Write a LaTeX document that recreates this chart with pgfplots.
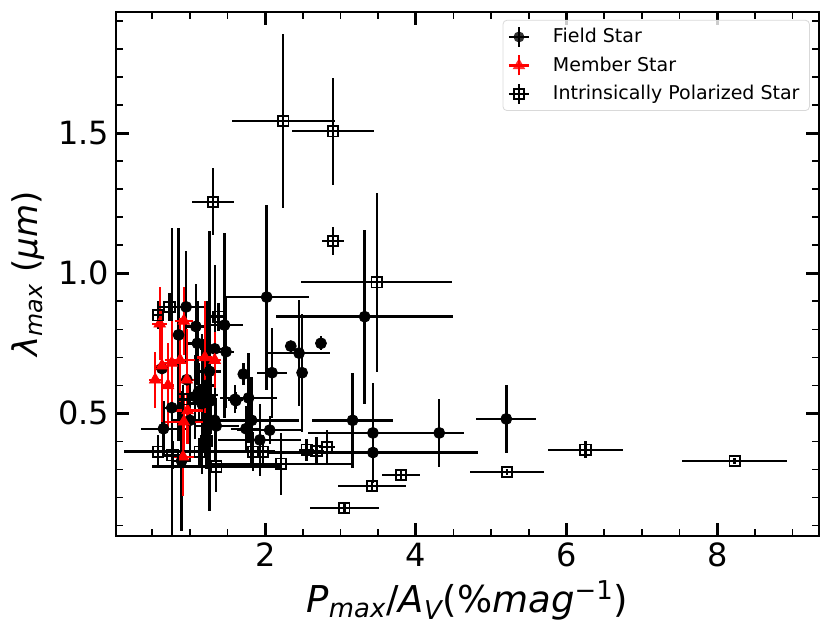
\documentclass[border=0pt]{standalone}
\usepackage{fontspec}
\setmainfont{DejaVu Sans}
\usepackage{amsmath}
\usepackage{pgfplots}
\pgfplotsset{compat=1.18}
\pgfdeclareplotmark{legfield}{%
  \pgfsetlinewidth{1.2pt}%
  \pgfpathmoveto{\pgfpoint{-5pt}{0pt}}\pgfpathlineto{\pgfpoint{5pt}{0pt}}%
  \pgfpathmoveto{\pgfpoint{0pt}{-5pt}}\pgfpathlineto{\pgfpoint{0pt}{5pt}}%
  \pgfusepathqstroke
  \pgfpathcircle{\pgfpointorigin}{2.75pt}\pgfusepathqfill}
\pgfdeclareplotmark{legmember}{%
  \pgfsetlinewidth{1.2pt}%
  \pgfpathmoveto{\pgfpoint{-5pt}{0pt}}\pgfpathlineto{\pgfpoint{5pt}{0pt}}%
  \pgfpathmoveto{\pgfpoint{0pt}{-5pt}}\pgfpathlineto{\pgfpoint{0pt}{5pt}}%
  \pgfusepathqstroke
  \pgfpathmoveto{\pgfpointpolar{90}{3.6pt}}\pgfpathlineto{\pgfpointpolar{210}{3.6pt}}%
  \pgfpathlineto{\pgfpointpolar{330}{3.6pt}}\pgfpathclose\pgfusepathqfill}
\pgfdeclareplotmark{legintr}{%
  \pgfsetlinewidth{1.2pt}%
  \pgfpathmoveto{\pgfpoint{-5pt}{0pt}}\pgfpathlineto{\pgfpoint{5pt}{0pt}}%
  \pgfpathmoveto{\pgfpoint{0pt}{-5pt}}\pgfpathlineto{\pgfpoint{0pt}{5pt}}%
  \pgfusepathqstroke
  \pgfsetlinewidth{0.9pt}%
  \pgfpathrectangle{\pgfpoint{-2.6pt}{-2.6pt}}{\pgfpoint{5.2pt}{5.2pt}}\pgfusepathqstroke}
\pgfplotsset{
  eb/.style={error bars/x dir=both, error bars/x explicit, error bars/y dir=both, error bars/y explicit,
    error bars/error mark=none, error bars/error bar style={line width=1.2pt, #1}},
}
\begin{document}
\begin{tikzpicture}
\begin{axis}[
  width=351.5pt, height=262pt, scale only axis,
  xmin=0.02, xmax=9.35, ymin=0.062, ymax=1.933,
  xtick={2,4,6,8}, ytick={0.5,1.0,1.5},
  minor xtick={0.5,1,1.5,2.5,3,3.5,4.5,5,5.5,6.5,7,7.5,8.5,9},
  minor ytick={0.1,0.2,0.3,0.4,0.6,0.7,0.8,0.9,1.1,1.2,1.3,1.4,1.6,1.7,1.8,1.9},
  /pgf/number format/assume math mode=true,
  yticklabel style={/pgf/number format/.cd, fixed, fixed zerofill, precision=1},
  tick label style={font=\fontsize{16}{16}\selectfont},
  major tick length=6.5pt, minor tick length=3.5pt,
  major tick style={line width=1.4pt, black},
  minor tick style={line width=0.8pt, black},
  axis line style={line width=0.9pt},
  xlabel={\fontsize{18.5}{18.5}\selectfont \textit{P}$_{\textit{max}}$/\textit{A}$_{\textit{V}}$(\%\textit{mag}$^{\text{−1}}$)},
  ylabel={\fontsize{17}{17}\selectfont \textit{λ}$_{\textit{max}}$ (\textit{μm})},
  legend cell align=left,
  legend style={at={(0.987,0.985)}, anchor=north east,
    font=\fontsize{9.5}{11}\selectfont, draw=black!15, rounded corners=2pt,
    fill=white, fill opacity=0.8, text opacity=1, row sep=1.5pt, column sep=10pt},
]
\addlegendimage{only marks, mark=legfield, black}
\addlegendentry{Field Star}
\addlegendimage{only marks, mark=legmember, red}
\addlegendentry{Member Star}
\addlegendimage{only marks, mark=legintr, black}
\addlegendentry{Intrinsically Polarized Star}
% Field stars
\addplot[only marks, mark=*, mark size=2.75pt, black, forget plot, eb=black]
coordinates {
(2.02,0.915) +- (0.56,0.33)
(3.32,0.845) +- (1.17,0.31)
(2.74,0.750) +- (0.03,0.025)
(2.34,0.740) +- (0.05,0.02)
(2.45,0.715) +- (0.41,0.19)
(2.49,0.645) +- (0.05,0.21)
(2.09,0.645) +- (0.20,0.16)
(1.71,0.640) +- (0.05,0.04)
(1.78,0.555) +- (0.38,0.16)
(1.61,0.545) +- (0.05,0.03)
(1.82,0.475) +- (0.63,0.155)
(1.745,0.445) +- (0.20,0.08)
(2.06,0.440) +- (0.43,0.05)
(1.93,0.405) +- (0.55,0.13)
(1.35,0.455) +- (0.30,0.10)
(3.16,0.475) +- (0.54,0.17)
(3.43,0.430) +- (0.86,0.18)
(4.31,0.430) +- (0.33,0.12)
(3.43,0.360) +- (1.40,0.09)
(5.20,0.480) +- (0.40,0.12)
(0.95,0.880) +- (0.30,0.20)
(0.85,0.780) +- (0.10,0.38)
(1.10,0.750) +- (0.15,0.15)
(1.08,0.810) +- (0.12,0.15)
(1.33,0.730) +- (0.20,0.30)
(1.46,0.815) +- (0.24,0.33)
(1.48,0.720) +- (0.10,0.20)
(0.63,0.660) +- (0.08,0.20)
(1.26,0.650) +- (0.15,0.50)
(0.76,0.520) +- (0.12,0.64)
(0.96,0.620) +- (0.10,0.12)
(1.07,0.560) +- (0.12,0.15)
(1.18,0.565) +- (0.20,0.20)
(1.16,0.535) +- (0.15,0.25)
(1.22,0.600) +- (0.10,0.30)
(1.60,0.550) +- (0.10,0.05)
(1.00,0.475) +- (0.25,0.15)
(1.33,0.475) +- (0.10,0.15)
(0.65,0.445) +- (0.30,0.10)
(0.89,0.330) +- (0.10,0.25)
(1.12,0.580) +- (0.08,0.10)
(1.28,0.545) +- (0.08,0.12)
};
% Member stars
\addplot[only marks, mark=triangle*, mark size=3.3pt, red, forget plot, eb=red]
coordinates {
(0.60,0.820) +- (0.10,0.13)
(0.92,0.830) +- (0.12,0.12)
(1.20,0.700) +- (0.10,0.20)
(1.33,0.690) +- (0.08,0.10)
(0.87,0.690) +- (0.20,0.15)
(0.76,0.680) +- (0.15,0.15)
(0.63,0.670) +- (0.08,0.20)
(0.54,0.620) +- (0.08,0.10)
(0.71,0.600) +- (0.08,0.15)
(0.96,0.620) +- (0.10,0.18)
(0.97,0.510) +- (0.20,0.12)
(0.92,0.470) +- (0.25,0.10)
(0.91,0.345) +- (0.15,0.14)
};
% Intrinsically polarized stars
\addplot[only marks, mark=square, mark size=2.6pt, black, mark options={line width=0.9pt}, forget plot, eb=black]
coordinates {
(2.24,1.544) +- (0.68,0.31)
(2.90,1.507) +- (0.54,0.19)
(1.31,1.255) +- (0.28,0.12)
(2.90,1.115) +- (0.15,0.05)
(3.48,0.968) +- (1.00,0.32)
(0.58,0.850) +- (0.05,0.05)
(0.73,0.880) +- (0.15,0.05)
(1.38,0.845) +- (0.10,0.05)
(0.91,0.550) +- (0.08,0.05)
(1.22,0.400) +- (0.05,0.05)
(0.58,0.363) +- (0.05,0.06)
(0.77,0.350) +- (0.10,0.05)
(1.13,0.363) +- (1.00,0.05)
(1.35,0.310) +- (0.85,0.09)
(1.84,0.363) +- (0.10,0.07)
(1.97,0.363) +- (0.10,0.06)
(2.21,0.320) +- (0.95,0.11)
(2.55,0.370) +- (0.10,0.04)
(2.68,0.365) +- (0.10,0.05)
(2.82,0.380) +- (0.10,0.06)
(3.05,0.162) +- (0.46,0.02)
(3.80,0.280) +- (0.25,0.02)
(3.42,0.240) +- (0.45,0.02)
(5.21,0.290) +- (0.49,0.01)
(6.25,0.370) +- (0.50,0.03)
(8.23,0.330) +- (0.70,0.01)
};
\end{axis}
\pgfresetboundingbox
\path ([shift={(-58pt,-49.5pt)}]current axis.south west) rectangle ([shift={(6pt,6pt)}]current axis.north east);
\end{tikzpicture}
\end{document}
